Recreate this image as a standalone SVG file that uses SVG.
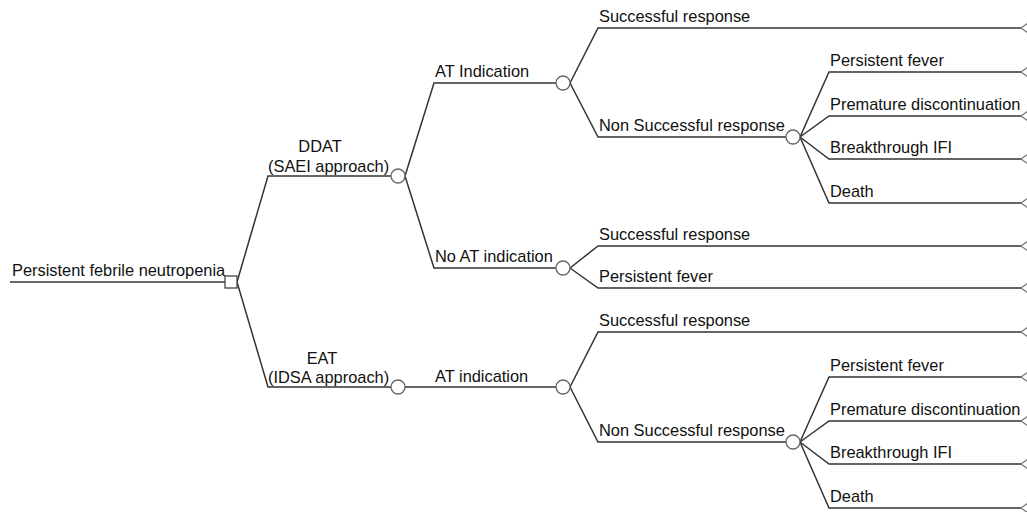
<svg xmlns="http://www.w3.org/2000/svg" width="1027" height="512" viewBox="0 0 1027 512">
<style>
.ln{fill:none;stroke:#333;stroke-width:1.5;stroke-linejoin:miter}
.ch{fill:#fff;stroke:#666;stroke-width:1.3}
.dc{fill:#fff;stroke:#444;stroke-width:1.3}
.tm{fill:none;stroke:#777;stroke-width:1.2}
text{font-family:"Liberation Sans",Arial,sans-serif;font-size:16.4px;fill:#111}
.mid{text-anchor:middle}
</style>
<rect width="1027" height="512" fill="#fff"/>
<g id="connectors">
<path class="ln" d="M10,282 H225"/>
<path class="ln" d="M237,282 L268,176 H391"/>
<path class="ln" d="M237,282 L268,387 H391"/>
<path class="ln" d="M405,176 L434,83 H556"/>
<path class="ln" d="M405,176 L434,268 H556"/>
<path class="ln" d="M405,387 H556"/>
<path class="ln" d="M570,83 L598,28 H1021"/>
<path class="ln" d="M570,83 L598,137 H786"/>
<path class="ln" d="M570,268 L598,246 H1021"/>
<path class="ln" d="M570,268 L598,288 H1021"/>
<path class="ln" d="M570,387 L598,332 H1021"/>
<path class="ln" d="M570,387 L598,442 H786"/>
<path class="ln" d="M800,137 L829,72 H1021"/>
<path class="ln" d="M800,137 L829,116 H1021"/>
<path class="ln" d="M800,137 L829,159 H1021"/>
<path class="ln" d="M800,137 L829,203 H1021"/>
<path class="ln" d="M800,442 L829,377 H1021"/>
<path class="ln" d="M800,442 L829,421 H1021"/>
<path class="ln" d="M800,442 L829,464 H1021"/>
<path class="ln" d="M800,442 L829,508 H1021"/>
</g>
<g id="root">
<rect class="dc" x="225" y="276" width="12" height="12"/>
<text x="12" y="276">Persistent febrile neutropenia</text>
</g>
<g id="ddat">
<circle class="ch" cx="398" cy="176" r="7"/>
<text class="mid" x="320" y="152">DDAT</text>
<text x="268" y="172">(SAEI approach)</text>
</g>
<g id="eat">
<circle class="ch" cx="398" cy="387" r="7"/>
<text class="mid" x="322" y="364">EAT</text>
<text x="268" y="383">(IDSA approach)</text>
</g>
<g id="ddat-at">
<circle class="ch" cx="563" cy="83" r="7"/>
<text x="435" y="77">AT Indication</text>
</g>
<g id="ddat-noat">
<circle class="ch" cx="563" cy="268" r="7"/>
<text x="435" y="262">No AT indication</text>
</g>
<g id="eat-at">
<circle class="ch" cx="563" cy="387" r="7"/>
<text x="435" y="382">AT indication</text>
</g>
<g id="ddat-at-success">
<text x="599" y="22">Successful response</text>
<path class="tm" d="M1028,23 L1021,28 L1028,33"/>
</g>
<g id="ddat-at-nonsuccess">
<circle class="ch" cx="793" cy="137" r="7"/>
<text x="599" y="131">Non Successful response</text>
</g>
<g id="ddat-ns-fever">
<text x="830" y="66">Persistent fever</text>
<path class="tm" d="M1028,67 L1021,72 L1028,77"/>
</g>
<g id="ddat-ns-premature">
<text x="830" y="110">Premature discontinuation</text>
<path class="tm" d="M1028,111 L1021,116 L1028,121"/>
</g>
<g id="ddat-ns-ifi">
<text x="830" y="153">Breakthrough IFI</text>
<path class="tm" d="M1028,154 L1021,159 L1028,164"/>
</g>
<g id="ddat-ns-death">
<text x="830" y="197">Death</text>
<path class="tm" d="M1028,198 L1021,203 L1028,208"/>
</g>
<g id="noat-success">
<text x="599" y="240">Successful response</text>
<path class="tm" d="M1028,241 L1021,246 L1028,251"/>
</g>
<g id="noat-fever">
<text x="599" y="282">Persistent fever</text>
<path class="tm" d="M1028,283 L1021,288 L1028,293"/>
</g>
<g id="eat-at-success">
<text x="599" y="326">Successful response</text>
<path class="tm" d="M1028,327 L1021,332 L1028,337"/>
</g>
<g id="eat-at-nonsuccess">
<circle class="ch" cx="793" cy="442" r="7"/>
<text x="599" y="436">Non Successful response</text>
</g>
<g id="eat-ns-fever">
<text x="830" y="371">Persistent fever</text>
<path class="tm" d="M1028,372 L1021,377 L1028,382"/>
</g>
<g id="eat-ns-premature">
<text x="830" y="415">Premature discontinuation</text>
<path class="tm" d="M1028,416 L1021,421 L1028,426"/>
</g>
<g id="eat-ns-ifi">
<text x="830" y="458">Breakthrough IFI</text>
<path class="tm" d="M1028,459 L1021,464 L1028,469"/>
</g>
<g id="eat-ns-death">
<text x="830" y="502">Death</text>
<path class="tm" d="M1028,503 L1021,508 L1028,513"/>
</g>
</svg>
